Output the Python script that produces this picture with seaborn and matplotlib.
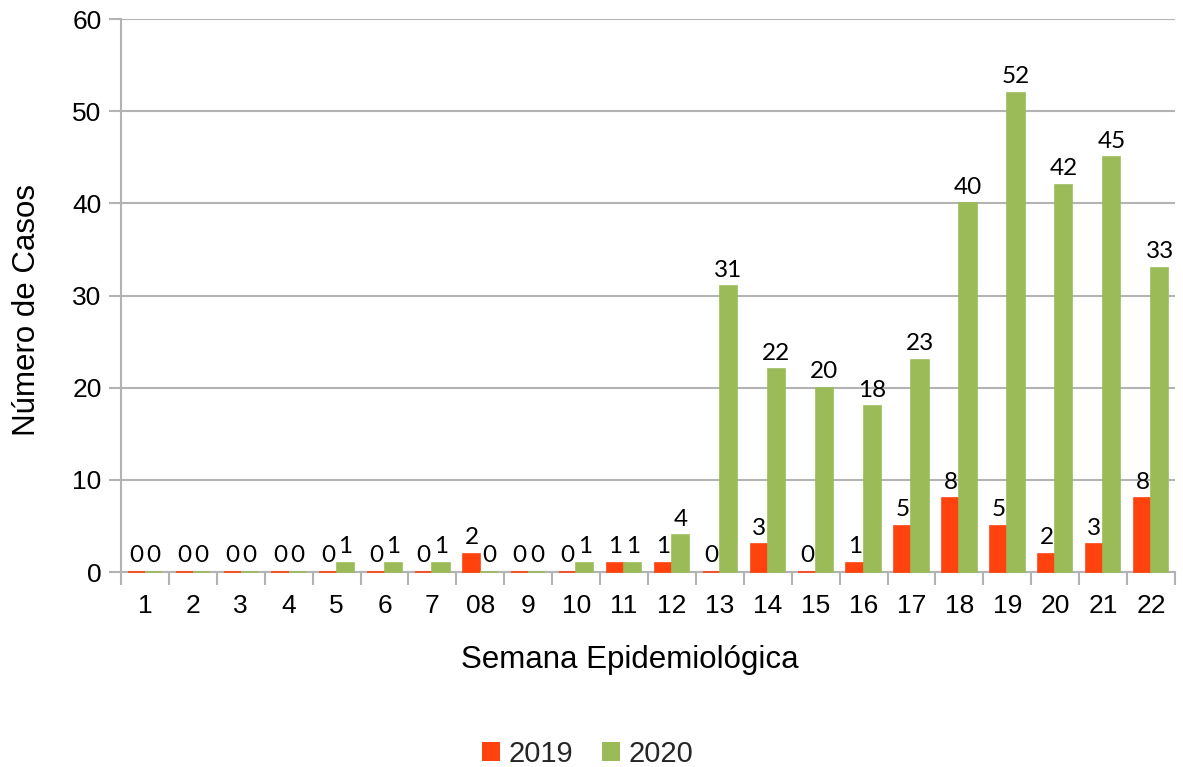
import matplotlib
matplotlib.use("Agg")
import matplotlib.pyplot as plt
from matplotlib.patches import Patch
from matplotlib.ticker import MultipleLocator, FixedLocator
import seaborn as sns
import pandas as pd

# Weekly case counts by epidemiological week
semanas = ["1", "2", "3", "4", "5", "6", "7", "08", "9", "10", "11",
           "12", "13", "14", "15", "16", "17", "18", "19", "20", "21", "22"]
casos_2019 = [0, 0, 0, 0, 0, 0, 0, 2, 0, 0, 1, 1, 0, 3, 0, 1, 5, 8, 5, 2, 3, 8]
casos_2020 = [0, 0, 0, 0, 1, 1, 1, 0, 0, 1, 1, 4, 31, 22, 20, 18, 23, 40, 52, 42, 45, 33]
anos = ["2019", "2020"]
cores = {"2019": "#FF420E", "2020": "#9BBB59"}

df = pd.DataFrame({
    "Semana": semanas * 2,
    "Casos": casos_2019 + casos_2020,
    "Ano": ["2019"] * len(semanas) + ["2020"] * len(semanas),
})

sns.set_theme(style="white")
plt.rcParams["font.family"] = ["Liberation Sans", "DejaVu Sans"]

fig = plt.figure(figsize=(11.83, 7.67), dpi=100)
ax = fig.add_axes([0.1023, 0.2542, 0.8909, 0.7210])

sns.barplot(data=df, x="Semana", y="Casos", hue="Ano", order=semanas,
            hue_order=anos, palette=cores, width=0.72, gap=0,
            saturation=1, legend=False, ax=ax, errorbar=None)

# thin outline in the bar colour so zero-valued weeks still show a line
for container, ano in zip(ax.containers, anos):
    for bar in container:
        bar.set_edgecolor(cores[ano])
        bar.set_linewidth(1.2)
        bar.set_zorder(3)
        bar.set_clip_on(False)
    ax.bar_label(container, fmt="%d", padding=4, fontsize=17.5,
                 family=["Lato", "DejaVu Sans"], color="black")

grid_c = "#B3B3B3"
ax.set_ylim(0, 60)
ax.set_xlim(-0.5, len(semanas) - 0.5)
ax.yaxis.set_major_locator(MultipleLocator(10))
ax.grid(axis="y", color=grid_c, linewidth=1.5)
ax.set_axisbelow(True)

for side in ["top", "right"]:
    ax.spines[side].set_visible(False)
for side in ["left", "bottom"]:
    ax.spines[side].set_color(grid_c)
    ax.spines[side].set_linewidth(1.5)

# category-boundary ticks on the x axis, labels at the centres
ax.xaxis.set_minor_locator(FixedLocator([i - 0.5 for i in range(len(semanas) + 1)]))
ax.tick_params(axis="x", which="major", length=0, labelsize=19, pad=16, colors="black")
ax.tick_params(axis="x", which="minor", length=9, width=1.5, color=grid_c, bottom=True)
ax.tick_params(axis="y", which="major", length=9, width=1.5, color=grid_c,
               labelsize=19, labelcolor="black", left=True, pad=5)

ax.set_xlabel("Semana Epidemiológica", fontsize=22.5, color="black")
ax.set_ylabel("Número de Casos", fontsize=22.5, color="black")
ax.xaxis.set_label_coords(0.483, -0.132)
ax.yaxis.set_label_coords(-0.075, 0.474)

handles = [Patch(facecolor=cores[a], edgecolor="none", label=a) for a in anos]
fig.legend(handles=handles, loc="center", bbox_to_anchor=(0.497, 0.017),
           ncol=2, frameon=False, fontsize=21, handlelength=0.6, handleheight=0.6,
           handletextpad=0.3, columnspacing=1.0, borderpad=0)

fig.savefig("out.png", dpi=100)
